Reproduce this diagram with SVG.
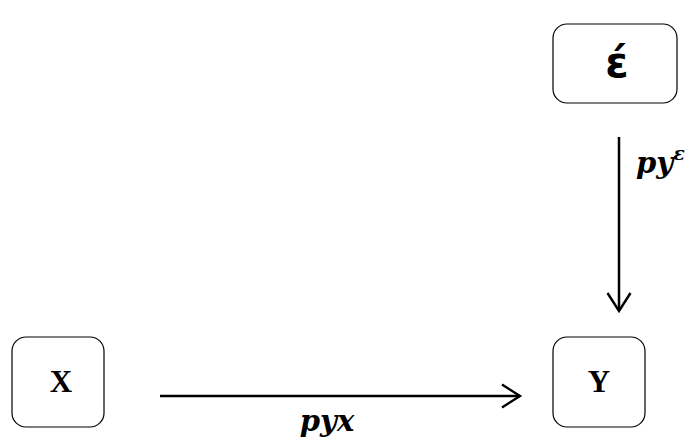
<svg xmlns="http://www.w3.org/2000/svg" width="689" height="439" viewBox="0 0 689 439">
<style>
.box{fill:#fff;stroke:#000;stroke-width:1.2}
.lbl{font-family:"Liberation Serif",serif;font-weight:bold;font-size:31px;text-anchor:middle}
.math{font-family:"DejaVu Serif","Liberation Serif",serif;font-weight:bold;font-style:italic;font-size:29px}
.edge{stroke:#000;stroke-width:2.5;fill:none}
</style>
<defs>
<marker id="arr" markerWidth="24" markerHeight="28" refX="20" refY="14" orient="auto" markerUnits="userSpaceOnUse">
<path d="M2,2.5 L20,14 L2,25.5" fill="none" stroke="#000" stroke-width="2.4"/>
</marker>
</defs>
<rect width="689" height="439" fill="#fff"/>
<g id="node-e">
<rect class="box" x="553" y="24" width="124" height="79" rx="14"/>
<text x="617" y="77" text-anchor="middle" font-family="'DejaVu Sans',sans-serif" font-weight="bold" font-size="42">έ</text>
</g>
<g id="node-x">
<rect class="box" x="12" y="337" width="92" height="90" rx="14"/>
<text class="lbl" x="61" y="392">X</text>
</g>
<g id="node-y">
<rect class="box" x="553" y="337" width="92" height="90" rx="14"/>
<text class="lbl" x="599" y="392">Y</text>
</g>
<g id="connectors">
<line class="edge" x1="160" y1="396" x2="520" y2="396" marker-end="url(#arr)"/>
<line class="edge" x1="619" y1="137" x2="619" y2="311" marker-end="url(#arr)"/>
<text class="math" x="327" y="431" text-anchor="middle">pyx</text>
<text class="math" x="636" y="173">py<tspan font-size="19" dy="-13">ε</tspan></text>
</g>
</svg>
